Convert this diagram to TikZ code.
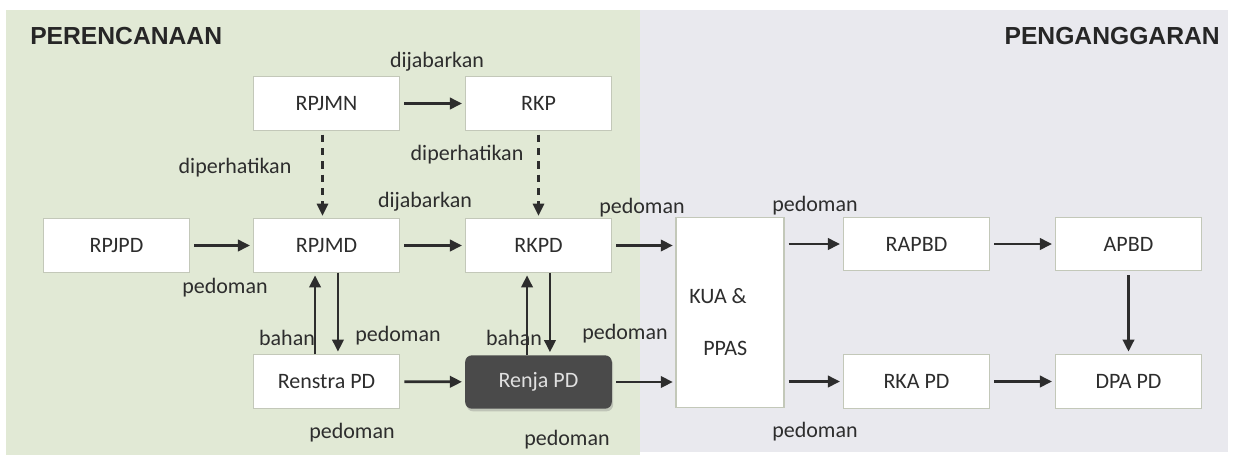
\documentclass[tikz,border=0pt]{standalone}
\usepackage{fontspec}
\setmainfont{Carlito}
\newfontfamily\headfont{Liberation Sans}
\usetikzlibrary{arrows.meta,shadows}

\definecolor{plangreen}{RGB}{225,233,213}
\definecolor{budgetgrey}{RGB}{233,233,238}
\definecolor{boxline}{RGB}{195,200,185}
\definecolor{arrowgrey}{RGB}{45,45,45}
\definecolor{labelgrey}{RGB}{45,45,45}
\definecolor{renjafill}{RGB}{74,74,74}

\tikzset{
  docbox/.style={draw=boxline,line width=0.8pt,fill=white,minimum width=110pt,
    minimum height=40pt,inner sep=0pt,text=labelgrey,font=\fontsize{16.5}{19}\selectfont},
  darkbox/.style={docbox,draw=none,fill=renjafill,rounded corners=5pt,text=white!88!black,
    drop shadow={shadow xshift=1pt,shadow yshift=-2pt,opacity=0.35}},
  lbl/.style={text=labelgrey,inner sep=0pt,font=\fontsize{16.5}{19}\selectfont},
  head/.style={text=black!85,inner sep=0pt,font=\headfont\bfseries\fontsize{18.5}{21}\selectfont},
  flow/.style={draw=arrowgrey,line width=2pt,-{Triangle[length=9pt,width=8.5pt]},
    shorten <=3pt,shorten >=2pt},
  hint/.style={flow,line width=1.6pt,dash pattern=on 5.5pt off 4.5pt}
}

\begin{document}
\begin{tikzpicture}[x=0.75pt,y=-0.75pt]
\useasboundingbox (0,0) rectangle (1236,462);
\fill[white] (0,0) rectangle (1236,462);
\fill[plangreen] (6,10) rectangle (640,455);
\fill[budgetgrey] (640,10) rectangle (1228,452);

% judul
\node[head,anchor=west] (plan) at (30,36) {PERENCANAAN};
\node[head,anchor=east] (budget) at (1220,36) {PENGANGGARAN};

% dokumen perencanaan
\node[docbox] (rpjmn) at (326.5,103.5) {RPJMN};
\node[docbox] (rkp) at (538.5,103.5) {RKP};
\node[docbox] (rpjpd) at (116.5,245.5) {RPJPD};
\node[docbox] (rpjmd) at (326.5,245.5) {RPJMD};
\node[docbox] (rkpd) at (538.5,245.5) {RKPD};
\node[docbox] (renstra) at (326.5,381.5) {Renstra PD};
\node[darkbox] (renja) at (538.5,382) {Renja PD};

% dokumen penganggaran
\node[docbox,minimum width=81pt,minimum height=142.5pt] (kua) at (730,312.5) {};
\node[lbl,anchor=west] (kuatop) at (689,296) {KUA \&};
\node[lbl,anchor=west] (kuabot) at (703,348) {PPAS};
\node[docbox] (rapbd) at (916.5,244) {RAPBD};
\node[docbox] (apbd) at (1128.5,244) {APBD};
\node[docbox] (rkapd) at (916.5,381.5) {RKA PD};
\node[docbox] (dpapd) at (1128.5,381.5) {DPA PD};

% panah
\draw[flow] (rpjmn) -- (rkp);
\draw[hint] ([xshift=-3pt]rpjmn.south) -- ([xshift=-3pt]rpjmd.north);
\draw[hint] (rkp) -- (rkpd);
\draw[flow] (rpjpd) -- (rpjmd);
\draw[flow] (rpjmd) -- (rkpd);
\draw[flow] (rkpd.east) -- (rkpd.east -| kua.west);
\draw[flow,shorten <=0pt] ([xshift=-8.6pt]renstra.north) -- ([xshift=-8.6pt]rpjmd.south);
\draw[flow,shorten <=0pt] ([xshift=8.6pt]rpjmd.south) -- ([xshift=8.6pt]renstra.north);
\draw[flow,shorten <=0pt] ([xshift=-8.6pt]renja.north) -- ([xshift=-8.6pt]rkpd.south);
\draw[flow,shorten <=0pt] ([xshift=8.6pt]rkpd.south) -- ([xshift=8.6pt]renja.north);
\draw[flow] (renstra) -- (renja);
\draw[flow] (renja.east) -- (renja.east -| kua.west);
\draw[flow] (kua.east |- rapbd.west) -- (rapbd.west);
\draw[flow] (kua.east |- rkapd.west) -- (rkapd.west);
\draw[flow] (rapbd) -- (apbd);
\draw[flow] (rkapd) -- (dpapd);
\draw[flow] (apbd) -- (dpapd);

% keterangan
\node[lbl] (l1) at (437,62) {dijabarkan};
\node[lbl] (l2) at (235,168) {diperhatikan};
\node[lbl] (l3) at (467,155) {diperhatikan};
\node[lbl] (l4) at (425,202) {dijabarkan};
\node[lbl] (l5) at (225,288) {pedoman};
\node[lbl] (l6) at (642,208) {pedoman};
\node[lbl] (l7) at (815,206) {pedoman};
\node[lbl] (l8) at (287,338) {bahan};
\node[lbl] (l9) at (398,336) {pedoman};
\node[lbl] (l10) at (514,338) {bahan};
\node[lbl] (l11) at (625,334) {pedoman};
\node[lbl] (l12) at (352,433) {pedoman};
\node[lbl] (l13) at (567,440) {pedoman};
\node[lbl] (l14) at (815,432) {pedoman};
\end{tikzpicture}
\end{document}
